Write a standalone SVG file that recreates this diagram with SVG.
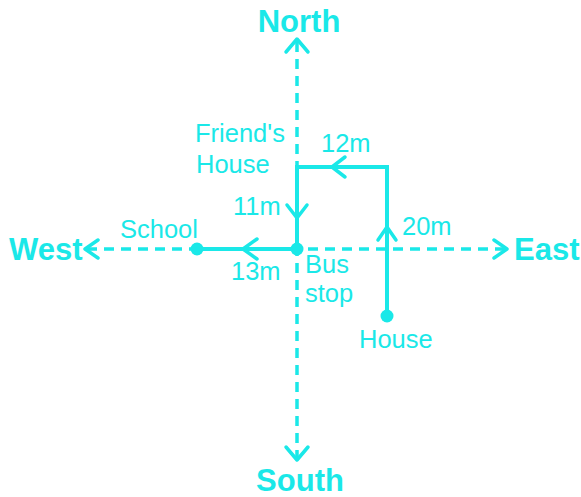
<svg xmlns="http://www.w3.org/2000/svg" width="581" height="497" viewBox="0 0 581 497">
<style>
.ax{stroke:#1AE8E8;stroke-width:3.5;fill:none;stroke-dasharray:10 7}
.hd{stroke:#1AE8E8;stroke-width:3.5;fill:none;stroke-linecap:round;stroke-linejoin:round}
.pt{stroke:#1AE8E8;stroke-width:4;fill:none;stroke-linejoin:miter}
.dot{fill:#1AE8E8}
.dir{font-family:"Liberation Sans",Arial,sans-serif;font-weight:bold;font-size:31px;fill:#1AE8E8}
.lb{font-family:"Liberation Sans",Arial,sans-serif;font-size:25.5px;fill:#1AE8E8}
</style>
<rect width="581" height="497" fill="#ffffff"/>
<g id="connectors">
<line class="ax" x1="297" y1="42" x2="297" y2="458"/>
<line class="ax" x1="87" y1="249" x2="505" y2="249"/>
<polyline class="hd" points="286,52 297,39 308,52"/>
<polyline class="hd" points="286,447 297,460 308,447"/>
<polyline class="hd" points="98,240 85,249 98,258"/>
<polyline class="hd" points="494,240 507,249 494,258"/>
<polyline class="pt" points="387,316 387,167 297,167 297,249 197,249"/>
<polyline class="hd" points="378,240 387,227 396,240"/>
<polyline class="hd" points="345,157 332,167 345,177"/>
<polyline class="hd" points="287,205 297,218 307,205"/>
<polyline class="hd" points="257,239 243,249 257,259"/>
</g>
<g id="north"><text class="dir" x="299" y="32" text-anchor="middle">North</text></g>
<g id="south"><text class="dir" x="300" y="491" text-anchor="middle">South</text></g>
<g id="west"><text class="dir" x="9" y="260">West</text></g>
<g id="east"><text class="dir" x="514" y="260">East</text></g>
<g id="friends-house"><text class="lb" x="195" y="142">Friend's</text><text class="lb" x="196" y="173">House</text></g>
<g id="bus-stop"><circle class="dot" cx="297" cy="249" r="6.5"/><text class="lb" x="305" y="273">Bus</text><text class="lb" x="305" y="302">stop</text></g>
<g id="school"><circle class="dot" cx="197" cy="249" r="6.5"/><text class="lb" x="120" y="238">School</text></g>
<g id="house"><circle class="dot" cx="387" cy="316" r="6.5"/><text class="lb" x="359" y="348">House</text></g>
<g id="labels">
<text class="lb" x="321" y="152">12m</text>
<text class="lb" x="233" y="215">11m</text>
<text class="lb" x="231" y="280">13m</text>
<text class="lb" x="402" y="235">20m</text>
</g>
</svg>
